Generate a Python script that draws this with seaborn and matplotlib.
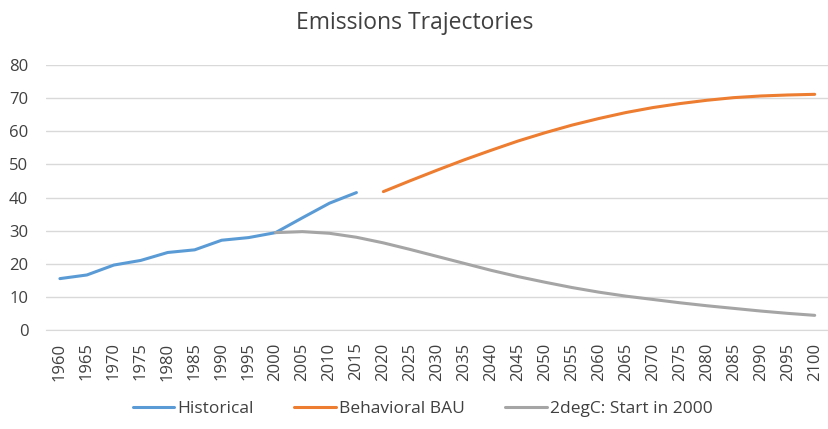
import pandas as pd
import seaborn as sns
import matplotlib.pyplot as plt
import numpy as np

years = list(range(1960, 2101, 5))

hist_years = list(range(1960, 2016, 5))
historical = [15.5, 16.6, 19.6, 21.0, 23.4, 24.2, 27.1, 27.9, 29.4, 33.9, 38.3, 41.5]

bau_years = list(range(2020, 2101, 5))
bau = [41.8, 45.1, 48.3, 51.4, 54.3, 57.1, 59.6, 61.9, 63.9, 65.7, 67.2, 68.4,
       69.4, 70.2, 70.7, 71.0, 71.2]

deg_years = list(range(2000, 2101, 5))
deg2 = [29.4, 29.7, 29.2, 28.0, 26.3, 24.3, 22.2, 20.1, 18.0, 16.1, 14.4, 12.8,
        11.4, 10.2, 9.2, 8.2, 7.3, 6.5, 5.7, 5.0, 4.4]

series_names = ["Historical", "Behavioral BAU", "2degC: Start in 2000"]
colors = ["#5B9BD5", "#ED7D31", "#A5A5A5"]

# long-form table for seaborn
df = pd.concat([
    pd.DataFrame({"year": hist_years, "value": historical, "series": series_names[0]}),
    pd.DataFrame({"year": bau_years, "value": bau, "series": series_names[1]}),
    pd.DataFrame({"year": deg_years, "value": deg2, "series": series_names[2]}),
])

sns.set_style("white")
plt.rcParams['font.family'] = ['Open Sans', 'DejaVu Sans']

fig = plt.figure(figsize=(8.29, 4.29), dpi=100)
ax = fig.add_axes([0.056, 0.231, 0.943, 0.617])

sns.lineplot(data=df, x="year", y="value", hue="series", hue_order=series_names,
             palette=colors, linewidth=2.2, ax=ax, sort=True)

ax.set_xlim(1957.5, 2102.5)
ax.set_ylim(0, 80)
ax.set_yticks(range(0, 81, 10))
ax.set_xticks(years)
ax.set_xticklabels([str(y) for y in years], rotation=90)
ax.tick_params(axis="both", labelsize=12, colors="#404040", length=0)
ax.tick_params(axis="y", pad=13)
ax.tick_params(axis="x", pad=9)
ax.grid(axis="y", color="#D9D9D9", linewidth=1)
ax.set_axisbelow(True)
for s in ["top", "right", "left"]:
    ax.spines[s].set_visible(False)
ax.spines["bottom"].set_color("#D9D9D9")
ax.set_xlabel("")
ax.set_ylabel("")

fig.suptitle("Emissions Trajectories", fontsize=16.5, color="#404040", y=0.975)

ax.get_legend().remove()
handles = [plt.Line2D([], [], color=c, linewidth=2.2) for c in colors]
fig.legend(handles, series_names, loc="center", bbox_to_anchor=(0.51, 0.046), ncol=3,
           frameon=False, fontsize=12.5, handlelength=2.4, columnspacing=2.3,
           handletextpad=0.2, labelcolor="#404040")

fig.savefig("out.png", dpi=100)
